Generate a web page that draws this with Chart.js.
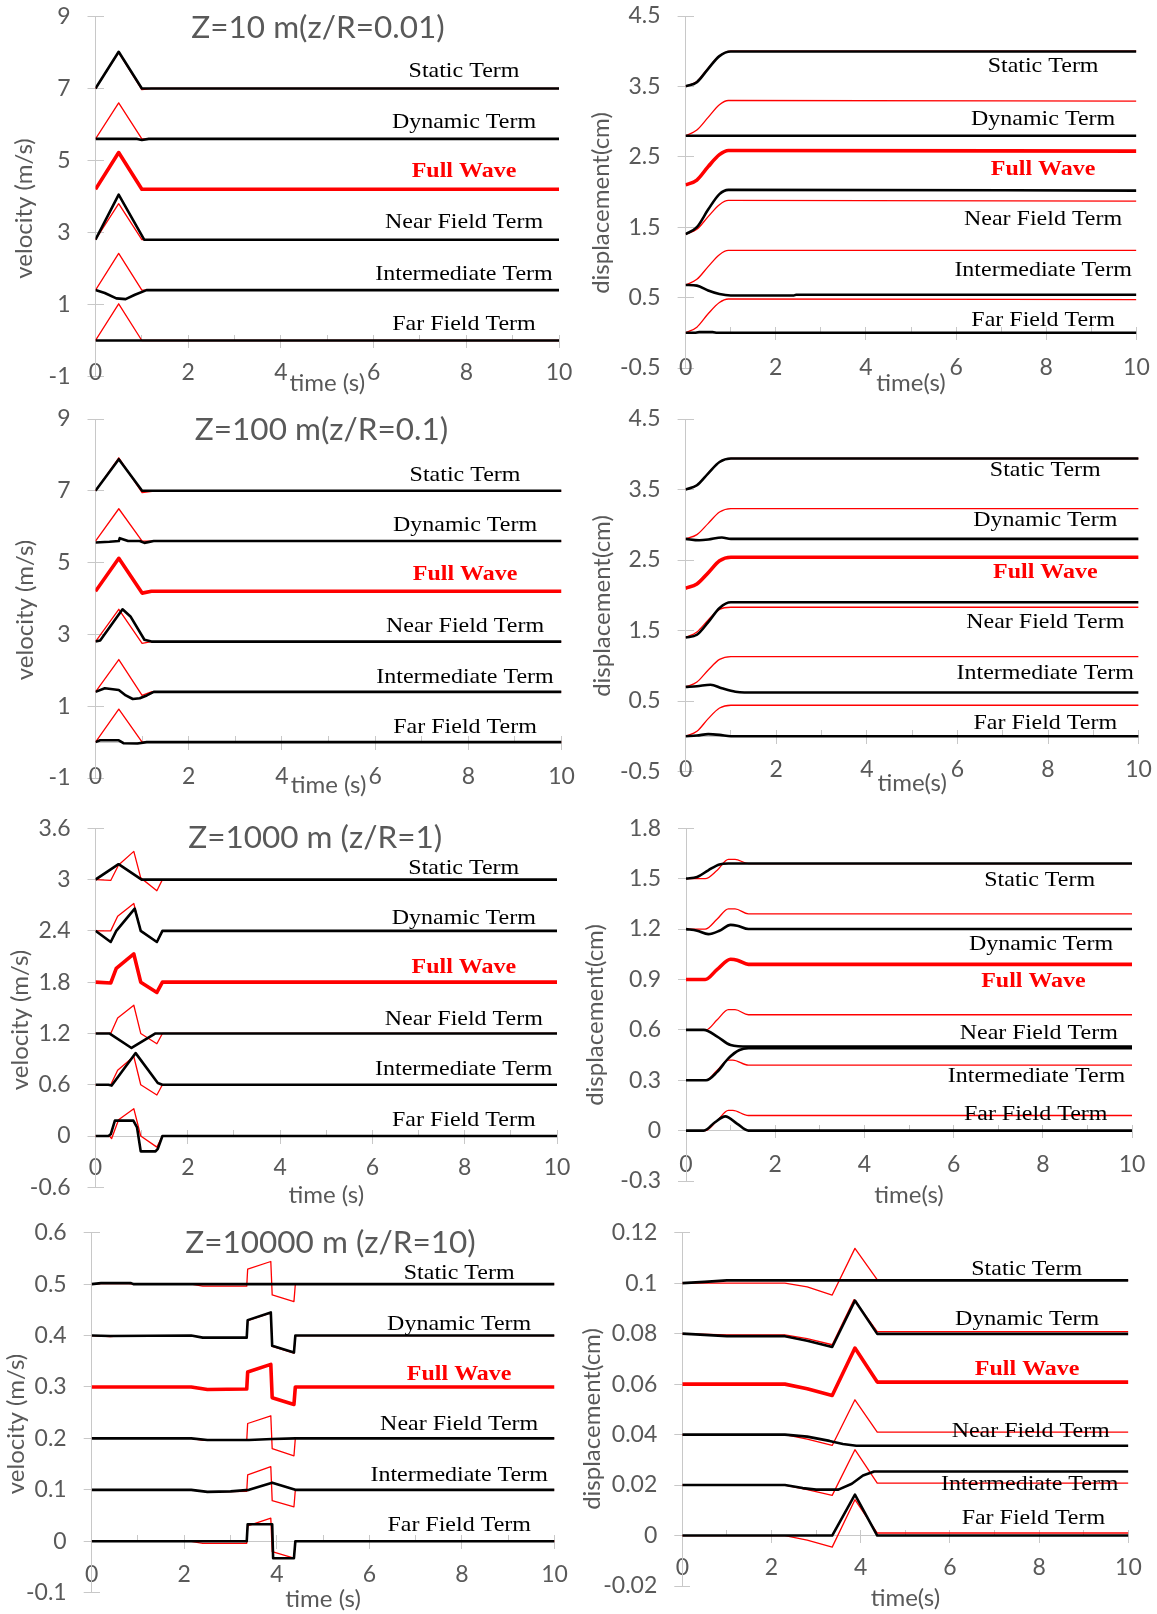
<!DOCTYPE html>
<html>
<head>
<meta charset="utf-8">
<script src="https://cdn.jsdelivr.net/npm/chart.js@4.4.1/dist/chart.umd.min.js"></script>
<style>
  html, body { margin: 0; padding: 0; background: #ffffff; }
  body { width: 1157px; height: 1614px; position: relative; overflow: hidden; }
  canvas { position: absolute; }
</style>
</head>
<body>
<script>
// ---------------- DATA (time in s, value) ----------------
// Z=10 m velocity
const v10_static_r = [[0,7],[0.5,8.0],[1.0,6.97],[1.2,7.0],[10,7]];
const v10_static_k = [[0,7],[0.5,8.02],[1.0,7.0],[10,7]];
const v10_dyn_r    = [[0,5.6],[0.5,6.6],[1.0,5.6],[10,5.6]];
const v10_dyn_k    = [[0,5.6],[0.9,5.6],[1.0,5.57],[1.15,5.6],[10,5.6]];
const v10_full     = [[0,4.2],[0.5,5.22],[1.0,4.2],[10,4.2]];
const v10_near_r   = [[0,2.8],[0.5,3.8],[1.0,2.8],[10,2.8]];
const v10_near_k   = [[0,2.8],[0.5,4.05],[1.05,2.8],[10,2.8]];
const v10_inter_r  = [[0,1.4],[0.5,2.42],[1.0,1.4],[10,1.4]];
const v10_inter_k  = [[0,1.4],[0.2,1.32],[0.45,1.17],[0.65,1.15],[0.85,1.27],[1.1,1.4],[10,1.4]];
const v10_far_r    = [[0,0],[0.5,1.02],[1.0,0],[10,0]];
const v10_far_k    = [[0,0],[10,0]];

// Z=10 m displacement
const d10_static_r = [[0,3.5],[0.25,3.57],[0.5,3.76],[0.75,3.93],[1.0,4.0],[10,4.0]];
const d10_static_k = [[0,3.5],[0.25,3.56],[0.5,3.75],[0.75,3.93],[1.0,3.995],[10,3.995]];
const d10_dyn_r    = [[0,2.8],[0.25,2.88],[0.5,3.06],[0.75,3.24],[0.95,3.3],[10,3.29]];
const d10_dyn_k    = [[0,2.8],[10,2.8]];
const d10_full     = [[0,2.1],[0.25,2.17],[0.5,2.36],[0.75,2.53],[0.95,2.59],[10,2.58]];
const d10_near_r   = [[0,1.4],[0.25,1.47],[0.5,1.65],[0.75,1.82],[0.95,1.88],[10,1.87]];
const d10_near_k   = [[0,1.4],[0.25,1.5],[0.5,1.75],[0.75,1.97],[0.95,2.03],[10,2.02]];
const d10_inter_r  = [[0,0.68],[0.25,0.76],[0.5,0.94],[0.75,1.11],[0.95,1.17],[10,1.17]];
const d10_inter_k  = [[0,0.68],[0.25,0.67],[0.5,0.6],[0.75,0.55],[1.0,0.53],[2.4,0.53],[2.45,0.54],[10,0.54]];
const d10_far_r    = [[0,0],[0.25,0.08],[0.5,0.27],[0.75,0.43],[0.95,0.48],[10,0.47]];
const d10_far_k    = [[0,0],[0.2,0.0],[0.3,0.01],[0.6,0.01],[0.7,0],[10,0]];

// Z=100 m velocity
const v100_static_r = [[0,7],[0.5,7.92],[1.0,6.95],[1.3,7.0],[10,7]];
const v100_static_k = [[0,7],[0.5,7.88],[1.0,7.0],[10,7]];
const v100_dyn_r    = [[0,5.6],[0.5,6.5],[1.0,5.6],[10,5.6]];
const v100_dyn_k    = [[0,5.56],[0.3,5.58],[0.5,5.6],[0.52,5.68],[0.7,5.6],[0.95,5.6],[1.05,5.55],[1.25,5.6],[10,5.6]];
const v100_full     = [[0,4.2],[0.5,5.12],[1.0,4.15],[1.2,4.2],[10,4.2]];
const v100_near_r   = [[0,2.8],[0.5,3.7],[1.0,2.75],[1.2,2.8],[10,2.8]];
const v100_near_k   = [[0,2.8],[0.1,2.83],[0.58,3.7],[0.75,3.5],[1.05,2.85],[1.2,2.8],[10,2.8]];
const v100_inter_r  = [[0,1.4],[0.5,2.3],[1.0,1.3],[1.2,1.4],[10,1.4]];
const v100_inter_k  = [[0,1.4],[0.2,1.5],[0.5,1.45],[0.65,1.3],[0.8,1.2],[0.95,1.22],[1.1,1.3],[1.25,1.4],[10,1.4]];
const v100_far_r    = [[0,0],[0.5,0.92],[1.0,0],[10,0]];
const v100_far_k    = [[0,0],[0.1,0.05],[0.5,0.05],[0.6,-0.03],[0.9,-0.04],[1.1,0],[10,0]];

// Z=100 m displacement
const d100_static_r = [[0,3.5],[0.25,3.56],[0.5,3.73],[0.75,3.89],[1.0,3.94],[10,3.94]];
const d100_static_k = [[0,3.5],[0.25,3.56],[0.5,3.73],[0.75,3.89],[1.0,3.94],[10,3.94]];
const d100_dyn_r    = [[0,2.8],[0.25,2.86],[0.5,3.02],[0.75,3.18],[1.0,3.23],[10,3.23]];
const d100_dyn_k    = [[0,2.8],[0.3,2.78],[0.5,2.79],[0.8,2.82],[1.0,2.8],[10,2.8]];
const d100_full     = [[0,2.1],[0.25,2.16],[0.5,2.32],[0.75,2.49],[1.0,2.54],[10,2.54]];
const d100_near_r   = [[0,1.4],[0.25,1.48],[0.5,1.65],[0.75,1.8],[1.0,1.83],[10,1.83]];
const d100_near_k   = [[0,1.4],[0.25,1.44],[0.5,1.62],[0.75,1.82],[1.0,1.9],[10,1.9]];
const d100_inter_r  = [[0,0.7],[0.25,0.77],[0.5,0.94],[0.75,1.09],[1.0,1.13],[10,1.13]];
const d100_inter_k  = [[0,0.7],[0.25,0.71],[0.55,0.73],[0.8,0.68],[1.1,0.63],[1.3,0.62],[10,0.62]];
const d100_far_r    = [[0,0],[0.25,0.07],[0.5,0.25],[0.75,0.4],[1.0,0.44],[10,0.44]];
const d100_far_k    = [[0,0],[0.25,0.01],[0.5,0.03],[0.75,0.02],[1.0,0.0],[10,0.0]];

// Z=1000 m velocity
const v1000_static_r = [[0,3.0],[0.33,2.99],[0.5,3.17],[0.83,3.33],[0.98,3.02],[1.33,2.87],[1.45,3.0],[10,3.0]];
const v1000_static_k = [[0,3.0],[0.5,3.18],[1.0,3.0],[10,3.0]];
const v1000_dyn_r    = [[0,2.4],[0.33,2.4],[0.48,2.57],[0.83,2.72],[0.98,2.4],[1.33,2.27],[1.45,2.4],[10,2.4]];
const v1000_dyn_k    = [[0,2.4],[0.33,2.27],[0.45,2.4],[0.85,2.66],[0.98,2.4],[1.33,2.27],[1.45,2.4],[10,2.4]];
const v1000_full     = [[0,1.8],[0.33,1.79],[0.45,1.96],[0.83,2.13],[0.98,1.8],[1.33,1.68],[1.45,1.8],[10,1.8]];
const v1000_near_r   = [[0,1.2],[0.33,1.2],[0.48,1.38],[0.83,1.53],[0.98,1.2],[1.33,1.08],[1.45,1.2],[10,1.2]];
const v1000_near_k   = [[0,1.2],[0.3,1.2],[0.78,1.03],[1.3,1.2],[10,1.2]];
const v1000_inter_r  = [[0,0.6],[0.33,0.6],[0.48,0.77],[0.83,0.93],[0.98,0.6],[1.33,0.48],[1.45,0.6],[10,0.6]];
const v1000_inter_k  = [[0,0.6],[0.28,0.6],[0.35,0.59],[0.87,0.97],[1.35,0.62],[1.45,0.6],[10,0.6]];
const v1000_far_r    = [[0,0],[0.3,0],[0.35,-0.03],[0.5,0.19],[0.83,0.32],[0.98,0.0],[1.33,-0.13],[1.45,0],[10,0]];
const v1000_far_k    = [[0,0],[0.28,0],[0.33,0.02],[0.42,0.18],[0.82,0.18],[0.9,0.1],[0.98,-0.18],[1.3,-0.18],[1.35,-0.15],[1.45,0],[10,0]];

// Z=1000 m displacement
const d1000_static_r = [[0,1.5],[0.43,1.5],[0.7,1.55],[0.95,1.615],[1.1,1.615],[1.4,1.59],[10,1.59]];
const d1000_static_k = [[0,1.5],[0.25,1.51],[0.5,1.55],[0.75,1.585],[0.95,1.59],[10,1.59]];
const d1000_dyn_r    = [[0,1.2],[0.43,1.2],[0.7,1.26],[0.95,1.32],[1.1,1.32],[1.4,1.29],[10,1.29]];
const d1000_dyn_k    = [[0,1.2],[0.25,1.19],[0.5,1.17],[0.75,1.19],[1.0,1.225],[1.15,1.22],[1.4,1.2],[10,1.2]];
const d1000_full     = [[0,0.9],[0.43,0.9],[0.7,0.96],[1.0,1.02],[1.15,1.015],[1.4,0.99],[10,0.99]];
const d1000_near_r   = [[0,0.6],[0.45,0.6],[0.7,0.66],[0.95,0.72],[1.1,0.72],[1.4,0.69],[10,0.69]];
const d1000_near_k   = [[0,0.6],[0.4,0.6],[0.7,0.56],[1.0,0.51],[1.4,0.5],[10,0.5]];
const d1000_inter_r  = [[0,0.3],[0.45,0.3],[0.7,0.36],[0.95,0.42],[1.05,0.42],[1.4,0.39],[10,0.39]];
const d1000_inter_k  = [[0,0.3],[0.45,0.3],[0.7,0.35],[0.95,0.43],[1.2,0.48],[1.4,0.49],[10,0.49]];
const d1000_far_r    = [[0,0],[0.43,0],[0.7,0.06],[0.95,0.12],[1.05,0.12],[1.4,0.09],[10,0.09]];
const d1000_far_k    = [[0,0],[0.4,0],[0.65,0.05],[0.88,0.085],[1.15,0.04],[1.4,0],[10,0]];

// Z=10000 m velocity
const v10000_static_r = [[0,0.5],[0.2,0.501],[0.8,0.501],[0.9,0.5],[2.15,0.5],[2.4,0.496],[3.35,0.496],[3.37,0.529],[3.87,0.544],[3.9,0.479],[4.37,0.466],[4.4,0.5],[10,0.5]];
const v10000_static_k = [[0,0.5],[0.2,0.502],[0.85,0.502],[0.9,0.5],[10,0.5]];
const v10000_dyn_r    = [[0,0.4],[0.4,0.398],[0.7,0.4],[2.15,0.4],[2.4,0.396],[3.35,0.396],[3.37,0.429],[3.87,0.444],[3.9,0.379],[4.37,0.366],[4.4,0.4],[10,0.4]];
const v10000_dyn_k    = [[0,0.4],[0.4,0.399],[2.15,0.4],[2.4,0.396],[3.35,0.396],[3.37,0.43],[3.87,0.445],[3.9,0.38],[4.37,0.367],[4.4,0.4],[10,0.4]];
const v10000_full     = [[0,0.3],[2.15,0.3],[2.5,0.295],[3.35,0.296],[3.37,0.329],[3.87,0.344],[3.9,0.279],[4.37,0.266],[4.4,0.3],[10,0.3]];
const v10000_near_r   = [[0,0.2],[2.15,0.2],[2.4,0.196],[3.35,0.196],[3.37,0.229],[3.87,0.244],[3.9,0.18],[4.37,0.166],[4.4,0.2],[10,0.2]];
const v10000_near_k   = [[0,0.2],[2.15,0.2],[2.5,0.197],[3.4,0.197],[3.9,0.199],[4.4,0.2],[10,0.2]];
const v10000_inter_r  = [[0,0.1],[2.15,0.1],[2.5,0.096],[3.35,0.097],[3.37,0.129],[3.87,0.145],[3.9,0.079],[4.37,0.067],[4.4,0.1],[10,0.1]];
const v10000_inter_k  = [[0,0.1],[2.15,0.1],[2.5,0.096],[3.0,0.097],[3.4,0.1],[3.9,0.114],[4.4,0.1],[10,0.1]];
const v10000_far_r    = [[0,0],[2.15,0],[2.4,-0.004],[3.35,-0.004],[3.37,0.03],[3.87,0.045],[3.9,-0.02],[4.37,-0.033],[4.4,0],[10,0]];
const v10000_far_k    = [[0,0],[3.35,0],[3.37,0.033],[3.9,0.033],[3.92,-0.033],[4.37,-0.033],[4.4,0],[10,0]];

// Z=10000 m displacement
const d10000_static_r = [[0,0.1],[2.3,0.1],[2.8,0.0985],[3.36,0.0953],[3.87,0.1138],[4.38,0.1011],[10,0.1011]];
const d10000_static_k = [[0,0.1],[0.5,0.1005],[1.0,0.1011],[10,0.1011]];
const d10000_dyn_r    = [[0,0.08],[1.0,0.0795],[2.3,0.0795],[2.8,0.078],[3.36,0.0756],[3.85,0.0935],[4.37,0.0808],[10,0.0808]];
const d10000_dyn_k    = [[0,0.08],[1.0,0.079],[2.3,0.079],[2.8,0.0772],[3.36,0.0747],[3.87,0.0931],[4.37,0.0799],[10,0.0799]];
const d10000_full     = [[0,0.06],[2.3,0.06],[2.8,0.0582],[3.36,0.0555],[3.87,0.0743],[4.37,0.0608],[10,0.0608]];
const d10000_near_r   = [[0,0.04],[2.3,0.04],[2.8,0.0382],[3.36,0.0357],[3.87,0.0538],[4.37,0.041],[10,0.041]];
const d10000_near_k   = [[0,0.04],[2.3,0.04],[2.8,0.0392],[3.3,0.0375],[3.6,0.0363],[3.9,0.0356],[10,0.0356]];
const d10000_inter_r  = [[0,0.02],[2.3,0.02],[2.8,0.0182],[3.36,0.0159],[3.87,0.034],[4.37,0.0208],[10,0.0208]];
const d10000_inter_k  = [[0,0.02],[2.3,0.02],[2.7,0.0188],[3.0,0.0182],[3.5,0.0182],[3.8,0.0205],[4.05,0.0238],[4.3,0.0254],[10,0.0254]];
const d10000_far_r    = [[0,0],[2.3,0],[2.8,-0.0018],[3.36,-0.0046],[3.87,0.0142],[4.37,0.001],[10,0.001]];
const d10000_far_k    = [[0,0],[3.36,0],[3.87,0.0162],[4.37,0],[10,0]];

// ---------------- LABELS & TICKS ----------------
const SERIES_NAMES = ['Static Term','Dynamic Term','Full Wave','Near Field Term','Intermediate Term','Far Field Term'];
const PANEL_TITLES = ['Z=10 m(z/R=0.01)', null, 'Z=100 m(z/R=0.1)', null, 'Z=1000 m (z/R=1)', null, 'Z=10000 m (z/R=10)', null];
const Y_TITLES = ['velocity (m/s)','displacement(cm)','velocity (m/s)','displacement(cm)','velocity (m/s)','displacement(cm)','velocity (m/s)','displacement(cm)'];
const X_TITLES = ['time (s)','time(s)','time (s)','time(s)','time (s)','time(s)','time (s)','time(s)'];
const Y_MIN  = [-1, -0.5, -1, -0.5, -0.6, -0.3, -0.1, -0.02];
const Y_MAX  = [9, 4.5, 9, 4.5, 3.6, 1.8, 0.6, 0.12];
const Y_STEP = [2, 1, 2, 1, 0.6, 0.3, 0.1, 0.02];
const X_MIN = 0, X_MAX = 10, X_STEP = 2;

// ---------------- LAYOUT (pixels) ----------------
const PX = [0, 580, 0, 580, 0, 580, 0, 580];
const PY = [0, 0, 400, 400, 800, 800, 1210, 1210];
const PW = [580, 577, 580, 577, 580, 577, 580, 577];
const PH = [400, 400, 400, 400, 410, 410, 404, 404];
const AL = [95.5, 105.6, 95.5, 105.6, 95.5, 106, 91.7, 102.3];
const AR = [559, 556.4, 561.5, 558.6, 557, 552, 554.5, 548.4];
const AT = [16.5, 16, 19, 19, 28.3, 28.3, 22.7, 22.7];
const AB = [376.5, 368, 378, 371.5, 387.3, 381, 382.7, 376];
const XLAB_OFF = [-3.5, 0, -1.3, -1.5, -19.3, -16, -17.7, -18];
const XTITLE_PADB = [2.6, 2.3, 0.6, 2.3, 0.6, 0.6, 0.6, 1.3];
const YTITLE_CX = [24.7, 21, 25.7, 22, 20.6, 15, 16.5, 12];
const YTITLE_CY = [208.5, 203, 210, 206, 220, 215, 214, 209];
const SMOOTH = [false, true, false, true, false, true, false, false];

// label anchor points (data coordinates)
const TITLE_POS = [[4.80, 8.69], null, [4.85, 8.69], null, [4.76, 3.487], null, [5.16, 0.58], null];
const LABEL_X = [
  [7.95,7.95,7.95,7.95,7.95,7.95],
  [7.93,7.93,7.93,7.93,7.93,7.93],
  [7.93,7.93,7.93,7.93,7.93,7.93],
  [7.94,7.94,7.94,7.94,7.94,7.94],
  [7.98,7.98,7.98,7.98,7.98,7.98],
  [7.93,7.96,7.79,7.91,7.86,7.84],
  [7.94,7.94,7.94,7.94,7.94,7.94],
  [7.72,7.73,7.73,7.81,7.79,7.87]
];
const LABEL_Y = [
  [7.47, 6.06, 4.69, 3.28, 1.83, 0.44],
  [3.78, 3.04, 2.32, 1.61, 0.89, 0.18],
  [7.43, 6.05, 4.67, 3.24, 1.82, 0.41],
  [3.77, 3.06, 2.33, 1.62, 0.90, 0.19],
  [3.13, 2.55, 1.97, 1.37, 0.78, 0.18],
  [1.493, 1.107, 0.888, 0.580, 0.325, 0.096],
  [0.522, 0.423, 0.325, 0.228, 0.128, 0.031],
  [0.1055, 0.0859, 0.0659, 0.0413, 0.0205, 0.0070]
];

const PANEL_SERIES = [
  [v10_static_r, v10_static_k, v10_dyn_r, v10_dyn_k, v10_full, v10_near_r, v10_near_k, v10_inter_r, v10_inter_k, v10_far_r, v10_far_k],
  [d10_static_r, d10_static_k, d10_dyn_r, d10_dyn_k, d10_full, d10_near_r, d10_near_k, d10_inter_r, d10_inter_k, d10_far_r, d10_far_k],
  [v100_static_r, v100_static_k, v100_dyn_r, v100_dyn_k, v100_full, v100_near_r, v100_near_k, v100_inter_r, v100_inter_k, v100_far_r, v100_far_k],
  [d100_static_r, d100_static_k, d100_dyn_r, d100_dyn_k, d100_full, d100_near_r, d100_near_k, d100_inter_r, d100_inter_k, d100_far_r, d100_far_k],
  [v1000_static_r, v1000_static_k, v1000_dyn_r, v1000_dyn_k, v1000_full, v1000_near_r, v1000_near_k, v1000_inter_r, v1000_inter_k, v1000_far_r, v1000_far_k],
  [d1000_static_r, d1000_static_k, d1000_dyn_r, d1000_dyn_k, d1000_full, d1000_near_r, d1000_near_k, d1000_inter_r, d1000_inter_k, d1000_far_r, d1000_far_k],
  [v10000_static_r, v10000_static_k, v10000_dyn_r, v10000_dyn_k, v10000_full, v10000_near_r, v10000_near_k, v10000_inter_r, v10000_inter_k, v10000_far_r, v10000_far_k],
  [d10000_static_r, d10000_static_k, d10000_dyn_r, d10000_dyn_k, d10000_full, d10000_near_r, d10000_near_k, d10000_inter_r, d10000_inter_k, d10000_far_r, d10000_far_k]
];
// role of each series slot: r = thin red, k = black, f = thick red
const ROLES = ['r','k','r','k','f','r','k','r','k','r','k'];

// ---------------- STYLE ----------------
const RED = '#ff0000', BLACK = '#000000', GREY = '#595959', AXIS = '#c8c8c8';
const SANS = 'Lato, "Open Sans", sans-serif';
const SERIF = '"Liberation Serif", "Times New Roman", serif';
const TICK_FONT = 23, AXTITLE_FONT = 24, PTITLE_FONT = 31.5, LABEL_FONT = 22, LABEL_STRETCH = 1.09;

function makeDataset(data, role, smooth) {
  const style = {
    r: {color: RED, width: 1.3, order: 2},
    k: {color: BLACK, width: 2.6, order: 0},
    f: {color: RED, width: 3.6, order: 1}
  }[role];
  return {
    data: data,
    borderColor: style.color,
    backgroundColor: style.color,
    borderWidth: style.width,
    order: style.order,
    pointRadius: 0,
    pointHoverRadius: 0,
    fill: false,
    tension: 0,
    cubicInterpolationMode: smooth ? 'monotone' : 'default',
    borderCapStyle: 'butt',
    borderJoinStyle: 'round',
    xAxisID: 'x',
    yAxisID: 'y'
  };
}

function textPlugin(i) {
  return {
    id: 'panelText' + i,
    afterDraw(chart) {
      const ctx = chart.ctx;
      const xs = chart.scales.x, ys = chart.scales.y;
      ctx.save();
      ctx.textAlign = 'center';
      ctx.textBaseline = 'middle';
      // axis title (vertical)
      ctx.save();
      ctx.translate(YTITLE_CX[i], YTITLE_CY[i]);
      ctx.rotate(-Math.PI / 2);
      ctx.font = AXTITLE_FONT + 'px ' + SANS;
      ctx.fillStyle = GREY;
      ctx.fillText(Y_TITLES[i], 0, 0);
      ctx.restore();
      // panel title
      if (PANEL_TITLES[i]) {
        ctx.font = PTITLE_FONT + 'px ' + SANS;
        ctx.fillStyle = GREY;
        ctx.fillText(PANEL_TITLES[i], xs.getPixelForValue(TITLE_POS[i][0]), ys.getPixelForValue(TITLE_POS[i][1]));
      }
      // series labels
      SERIES_NAMES.forEach((name, k) => {
        const isFull = (k === 2);
        ctx.save();
        ctx.translate(xs.getPixelForValue(LABEL_X[i][k]), ys.getPixelForValue(LABEL_Y[i][k]));
        ctx.scale(LABEL_STRETCH, 1);
        ctx.font = (isFull ? 'bold ' : '') + LABEL_FONT + 'px ' + SERIF;
        ctx.fillStyle = isFull ? RED : BLACK;
        ctx.fillText(name, 0, 0);
        ctx.restore();
      });
      ctx.restore();
    }
  };
}

for (let i = 0; i < 8; i++) {
  const cv = document.createElement('canvas');
  cv.width = PW[i]; cv.height = PH[i];
  cv.style.left = PX[i] + 'px'; cv.style.top = PY[i] + 'px';
  cv.style.width = PW[i] + 'px'; cv.style.height = PH[i] + 'px';
  document.body.appendChild(cv);

  const datasets = PANEL_SERIES[i].map((d, k) => makeDataset(d, ROLES[k], SMOOTH[i]));
  const H = PH[i], W = PW[i];
  const yAxisWidth = AL[i];
  const xAxisHeight = H - AB[i];

  new Chart(cv.getContext('2d'), {
    type: 'line',
    data: { datasets },
    options: {
      responsive: false,
      animation: false,
      events: [],
      devicePixelRatio: 1,
      layout: { padding: { left: 0, top: AT[i], right: W - AR[i], bottom: 0 } },
      plugins: { legend: { display: false }, tooltip: { enabled: false } },
      scales: {
        x: {
          type: 'linear', position: 'bottom', min: X_MIN, max: X_MAX,
          ticks: { display: false },
          grid: { display: false, drawTicks: false },
          border: { display: false },
          title: { display: true, text: X_TITLES[i], color: GREY, font: { family: SANS, size: AXTITLE_FONT },
                   padding: { top: 0, bottom: XTITLE_PADB[i] } },
          afterFit: (sc) => { sc.height = xAxisHeight; sc.paddingLeft = 0; sc.paddingRight = 0; }
        },
        xl: {
          type: 'linear', position: { y: Y_MIN[i] }, min: X_MIN, max: X_MAX,
          ticks: { stepSize: X_STEP, color: GREY, font: { family: SANS, size: TICK_FONT },
                   padding: XLAB_OFF[i] - TICK_FONT * 0.6, maxRotation: 0, autoSkip: false },
          grid: { display: false, drawTicks: false },
          border: { display: false },
          afterFit: (sc) => { sc.paddingLeft = 0; sc.paddingRight = 0; }
        },
        xz: {
          type: 'linear', position: { y: 0 }, min: X_MIN, max: X_MAX,
          ticks: { display: false, stepSize: 2 },
          grid: { display: true, drawOnChartArea: false, drawTicks: true, tickLength: 7, color: AXIS },
          border: { display: true, color: AXIS, width: 1 }
        },
        xzu: {
          type: 'linear', position: { y: 0 }, min: X_MIN, max: X_MAX,
          ticks: { display: false, stepSize: 1 },
          grid: { display: true, drawOnChartArea: false, drawTicks: true, tickLength: -6, color: AXIS },
          border: { display: false }
        },
        yc: {
          type: 'linear', position: { x: 0 }, min: Y_MIN[i], max: Y_MAX[i],
          ticks: { display: false, stepSize: Y_STEP[i] },
          grid: { display: true, drawOnChartArea: false, drawTicks: true, tickLength: -8, color: AXIS },
          border: { display: false }
        },
        y: {
          type: 'linear', position: 'left', min: Y_MIN[i], max: Y_MAX[i],
          ticks: { stepSize: Y_STEP[i], color: GREY, font: { family: SANS, size: TICK_FONT }, padding: 17,
                   callback: (v) => String(+Number(v).toFixed(4)) },
          grid: { display: true, drawOnChartArea: false, drawTicks: true, tickLength: 8, color: AXIS },
          border: { display: true, color: AXIS, width: 1 },
          title: { display: false },
          afterFit: (sc) => { sc.width = yAxisWidth; sc.paddingTop = 0; sc.paddingBottom = 0; }
        }
      }
    },
    plugins: [textPlugin(i)]
  });
}
</script>
</body>
</html>
